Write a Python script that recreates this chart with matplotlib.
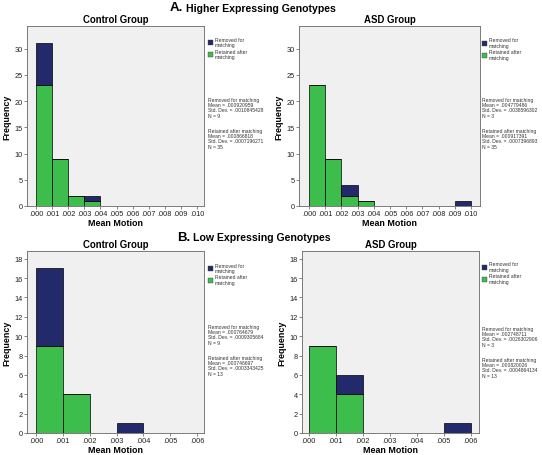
import numpy as np
import matplotlib.pyplot as plt
from matplotlib.patches import Rectangle

plt.rcParams['font.family'] = ['Liberation Sans', 'DejaVu Sans']

# bin left edges and counts (stacked: retained at bottom, removed on top)
bins_a = [0.000, 0.001, 0.002, 0.003, 0.004, 0.005, 0.006, 0.007, 0.008, 0.009]
bins_b = [0.000, 0.001, 0.002, 0.003, 0.004, 0.005]

a_ctrl_retained = [23, 9, 2, 1, 0, 0, 0, 0, 0, 0]
a_ctrl_removed = [8, 0, 0, 1, 0, 0, 0, 0, 0, 0]
a_asd_retained = [23, 9, 2, 1, 0, 0, 0, 0, 0, 0]
a_asd_removed = [0, 0, 2, 0, 0, 0, 0, 0, 0, 1]
b_ctrl_retained = [9, 4, 0, 0, 0, 0]
b_ctrl_removed = [8, 0, 0, 1, 0, 0]
b_asd_retained = [9, 4, 0, 0, 0, 0]
b_asd_removed = [0, 2, 0, 0, 0, 1]

ticks_a = [0.000, 0.001, 0.002, 0.003, 0.004, 0.005, 0.006, 0.007, 0.008, 0.009, 0.010]
ticks_b = [0.000, 0.001, 0.002, 0.003, 0.004, 0.005, 0.006]

stats_a_ctrl = (['Removed for matching', 'Mean = .000920959', 'Std. Dev. = .0010845428', 'N = 9'],
                ['Retained after matching', 'Mean = .000866818', 'Std. Dev. = .0007196271', 'N = 35'])
stats_a_asd = (['Removed for matching', 'Mean = .004779486', 'Std. Dev. = .0038596302', 'N = 3'],
               ['Retained after matching', 'Mean = .000917391', 'Std. Dev. = .0007396893', 'N = 35'])
stats_b_ctrl = (['Removed for matching', 'Mean = .000764679', 'Std. Dev. = .0009305684', 'N = 9'],
                ['Retained after matching', 'Mean = .000746697', 'Std. Dev. = .0003343425', 'N = 13'])
stats_b_asd = (['Removed for matching', 'Mean = .002748711', 'Std. Dev. = .0026302906', 'N = 3'],
               ['Retained after matching', 'Mean = .000820026', 'Std. Dev. = .0004864134', 'N = 13'])

NAVY = '#232a6c'
GREEN = '#3dbd4b'
BG = '#f0f0f0'

W, H = 542, 456
fig = plt.figure(figsize=(W / 100, H / 100), dpi=100)


def px_axes(left, right, top, bottom):
    return fig.add_axes([left / W, 1 - bottom / H, (right - left) / W, (bottom - top) / H])


def panel(box, bins, retained, removed, ticks, xlim, ylim, yticks, title):
    ax = px_axes(*box)
    ax.set_facecolor(BG)
    ax.bar(bins, retained, width=0.001, align='edge', color=GREEN,
           edgecolor='black', linewidth=0.5)
    ax.bar(bins, removed, width=0.001, align='edge', bottom=retained, color=NAVY,
           edgecolor='black', linewidth=0.5)
    ax.set_xlim(*xlim)
    ax.set_ylim(*ylim)
    ax.set_xticks(ticks)
    ax.set_xticklabels(['.%03d' % round(t * 1000) for t in ticks])
    ax.set_yticks(yticks)
    ax.tick_params(axis='both', labelsize=5.3, length=2, width=0.5, pad=1, color='#555555',
                   labelcolor='#222222')
    for s in ax.spines.values():
        s.set_linewidth(0.6)
        s.set_color('#666666')
    ax.set_xlabel('Mean Motion', fontsize=6.4, fontweight='bold', labelpad=0.5)
    ax.set_ylabel('Frequency', fontsize=6.4, fontweight='bold', labelpad=2)
    ax.set_title(title, fontsize=6.9, fontweight='bold', pad=3)
    return ax


def side_text(x, leg_y, stat_y, stats):
    # legend squares + labels
    for yy, col, lab in [(leg_y, NAVY, 'Removed for\nmatching'),
                         (leg_y + 12, GREEN, 'Retained after\nmatching')]:
        fig.patches.append(Rectangle((x / W, 1 - (yy + 5) / H), 5 / W, 5 / H,
                                     transform=fig.transFigure, facecolor=col,
                                     edgecolor='#444444', linewidth=0.3))
        fig.text((x + 7) / W, 1 - (yy - 3.5) / H, lab, fontsize=3.6, va='top',
                 color='#333333', linespacing=1.05)
    fig.text(x / W, 1 - stat_y / H, '\n'.join(stats[0]), fontsize=3.6, va='top',
             color='#333333', linespacing=1.05)
    fig.text(x / W, 1 - (stat_y + 31) / H, '\n'.join(stats[1]), fontsize=3.6, va='top',
             color='#333333', linespacing=1.05)


panel((27, 204, 27, 207), bins_a, a_ctrl_retained, a_ctrl_removed, ticks_a,
      (-0.00056, 0.01043), (0, 34.3), [0, 5, 10, 15, 20, 25, 30], 'Control Group')
panel((299, 480, 27, 207), bins_a, a_asd_retained, a_asd_removed, ticks_a,
      (-0.00062, 0.01056), (0, 34.3), [0, 5, 10, 15, 20, 25, 30], 'ASD Group')
panel((27, 204, 252, 434), bins_b, b_ctrl_retained, b_ctrl_removed, ticks_b,
      (-0.00034, 0.00626), (0, 18.8), [0, 2, 4, 6, 8, 10, 12, 14, 16, 18], 'Control Group')
panel((302, 479, 252, 434), bins_b, b_asd_retained, b_asd_removed, ticks_b,
      (-0.00026, 0.00630), (0, 18.8), [0, 2, 4, 6, 8, 10, 12, 14, 16, 18], 'ASD Group')

side_text(208, 41, 98, stats_a_ctrl)
side_text(482, 42, 98, stats_a_asd)
side_text(208, 267, 325, stats_b_ctrl)
side_text(482, 266, 327, stats_b_asd)

# section headings
fig.text(170 / W, 1 - 8 / H, 'A.', fontsize=9.5, fontweight='bold', va='center')
fig.text(186 / W, 1 - 8.5 / H, 'Higher Expressing Genotypes', fontsize=7.6,
         fontweight='bold', va='center')
fig.text(177 / W, 1 - 238 / H, 'B.', fontsize=9.5, fontweight='bold', va='center')
fig.text(193 / W, 1 - 238.5 / H, 'Low Expressing Genotypes', fontsize=7.6,
         fontweight='bold', va='center')

fig.savefig('out.png', dpi=100, facecolor='white')
